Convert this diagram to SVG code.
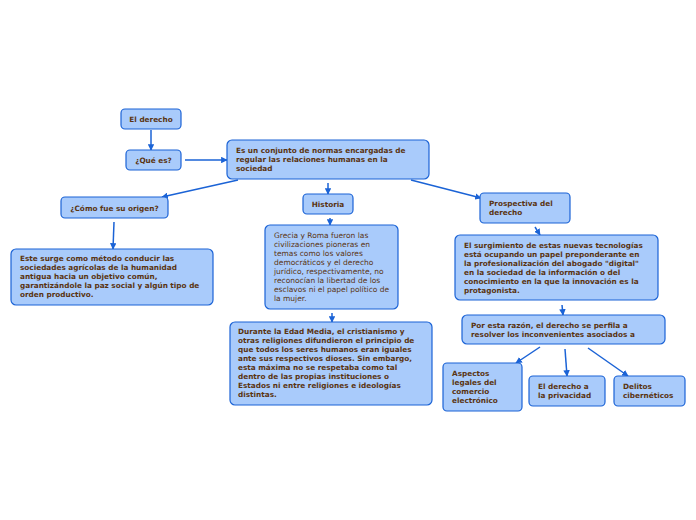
<svg xmlns="http://www.w3.org/2000/svg" width="696" height="520" viewBox="0 0 696 520">
  <style>
    .box { fill: #a9cbfb; stroke: #1b63d6; stroke-width: 1.2; }
    .t { font-family: "DejaVu Sans", Verdana, sans-serif; font-size: 7.3px; font-weight: bold; fill: #5a3411; }
    .r { font-weight: normal; font-size: 7.5px; }
    .c { text-anchor: middle; }
    .edge { stroke: #1b63d6; stroke-width: 1.5; fill: none; marker-end: url(#ah); }
  </style>
  <defs>
    <marker id="ah" viewBox="0 0 10 10" refX="9" refY="5" markerWidth="6.5" markerHeight="6.5" orient="auto" markerUnits="userSpaceOnUse">
      <path d="M0,0 L10,5 L0,10 z" fill="#1b63d6"/>
    </marker>
  </defs>
  <rect width="696" height="520" fill="#ffffff"/>

  <g id="connectors">
    <line class="edge" x1="151" y1="130" x2="151" y2="150"/>
    <line class="edge" x1="185" y1="160" x2="227" y2="160"/>
    <line class="edge" x1="238" y1="180" x2="162" y2="197"/>
    <line class="edge" x1="328" y1="183" x2="328" y2="194"/>
    <line class="edge" x1="411" y1="180" x2="481" y2="198"/>
    <line class="edge" x1="114" y1="222" x2="113" y2="249"/>
    <line class="edge" x1="330" y1="218" x2="330" y2="225"/>
    <line class="edge" x1="332" y1="313" x2="332" y2="322"/>
    <line class="edge" x1="535" y1="227" x2="540" y2="235"/>
    <line class="edge" x1="562" y1="305" x2="563" y2="315"/>
    <line class="edge" x1="540" y1="347" x2="516" y2="363"/>
    <line class="edge" x1="565" y1="349" x2="567" y2="376"/>
    <line class="edge" x1="588" y1="348" x2="628" y2="376"/>
  </g>

  <g id="n-derecho">
    <rect class="box" x="121" y="109" width="60" height="20" rx="4"/>
    <text class="t c" x="151" y="122">El derecho</text>
  </g>
  <g id="n-quees">
    <rect class="box" x="126" y="150" width="55" height="20" rx="4"/>
    <text class="t c" x="153.5" y="163">¿Qué es?</text>
  </g>
  <g id="n-definicion">
    <rect class="box" x="227" y="140" width="202" height="39" rx="5"/>
    <text class="t" x="236" y="153">Es un conjunto de normas encargadas de</text>
    <text class="t" x="236" y="162">regular las relaciones humanas en la</text>
    <text class="t" x="236" y="171">sociedad</text>
  </g>
  <g id="n-origen">
    <rect class="box" x="61" y="197" width="107" height="21" rx="4"/>
    <text class="t c" x="114.5" y="210.5">¿Cómo fue su origen?</text>
  </g>
  <g id="n-surge">
    <rect class="box" x="11" y="249" width="202" height="56" rx="5"/>
    <text class="t" x="20" y="261">Este surge como método conducir las</text>
    <text class="t" x="20" y="270">sociedades agrícolas de la humanidad</text>
    <text class="t" x="20" y="279">antigua hacia un objetivo común,</text>
    <text class="t" x="20" y="288">garantizándole la paz social y algún tipo de</text>
    <text class="t" x="20" y="297">orden productivo.</text>
  </g>
  <g id="n-historia">
    <rect class="box" x="303" y="194" width="50" height="20" rx="4"/>
    <text class="t c" x="328" y="207">Historia</text>
  </g>
  <g id="n-grecia">
    <rect class="box" x="265" y="225" width="133" height="84" rx="5"/>
    <text class="t r" x="274" y="238">Grecia y Roma fueron las</text>
    <text class="t r" x="274" y="247">civilizaciones pioneras en</text>
    <text class="t r" x="274" y="256">temas como los valores</text>
    <text class="t r" x="274" y="265">democráticos y el derecho</text>
    <text class="t r" x="274" y="274">jurídico, respectivamente, no</text>
    <text class="t r" x="274" y="283">reconocían la libertad de los</text>
    <text class="t r" x="274" y="292">esclavos ni el papel político de</text>
    <text class="t r" x="274" y="301">la mujer.</text>
  </g>
  <g id="n-edadmedia">
    <rect class="box" x="230" y="322" width="202" height="83" rx="5"/>
    <text class="t" x="238" y="334">Durante la Edad Media, el cristianismo y</text>
    <text class="t" x="238" y="343">otras religiones difundieron el principio de</text>
    <text class="t" x="238" y="352">que todos los seres humanos eran iguales</text>
    <text class="t" x="238" y="361">ante sus respectivos dioses. Sin embargo,</text>
    <text class="t" x="238" y="370">esta máxima no se respetaba como tal</text>
    <text class="t" x="238" y="379">dentro de las propias instituciones o</text>
    <text class="t" x="238" y="388">Estados ni entre religiones e ideologías</text>
    <text class="t" x="238" y="397">distintas.</text>
  </g>
  <g id="n-prospectiva">
    <rect class="box" x="480" y="193" width="90" height="30" rx="4"/>
    <text class="t" x="489" y="206">Prospectiva del</text>
    <text class="t" x="489" y="215">derecho</text>
  </g>
  <g id="n-surgimiento">
    <rect class="box" x="455" y="235" width="203" height="65" rx="5"/>
    <text class="t" x="464" y="248">El surgimiento de estas nuevas tecnologías</text>
    <text class="t" x="464" y="257">está ocupando un papel preponderante en</text>
    <text class="t" x="464" y="266">la profesionalización del abogado "digital"</text>
    <text class="t" x="464" y="275">en la sociedad de la información o del</text>
    <text class="t" x="464" y="284">conocimiento en la que la innovación es la</text>
    <text class="t" x="464" y="293">protagonista.</text>
  </g>
  <g id="n-razon">
    <rect class="box" x="462" y="315" width="203" height="29" rx="5"/>
    <text class="t" x="471" y="328">Por esta razón, el derecho se perfila a</text>
    <text class="t" x="471" y="337">resolver los inconvenientes asociados a</text>
  </g>
  <g id="n-aspectos">
    <rect class="box" x="443" y="363" width="79" height="48" rx="4"/>
    <text class="t" x="452" y="376">Aspectos</text>
    <text class="t" x="452" y="385">legales del</text>
    <text class="t" x="452" y="394">comercio</text>
    <text class="t" x="452" y="403">electrónico</text>
  </g>
  <g id="n-privacidad">
    <rect class="box" x="529" y="376" width="76" height="30" rx="4"/>
    <text class="t" x="538" y="389">El derecho a</text>
    <text class="t" x="538" y="398">la privacidad</text>
  </g>
  <g id="n-delitos">
    <rect class="box" x="614" y="376" width="71" height="30" rx="4"/>
    <text class="t" x="623" y="389">Delitos</text>
    <text class="t" x="623" y="398">cibernéticos</text>
  </g>
</svg>
